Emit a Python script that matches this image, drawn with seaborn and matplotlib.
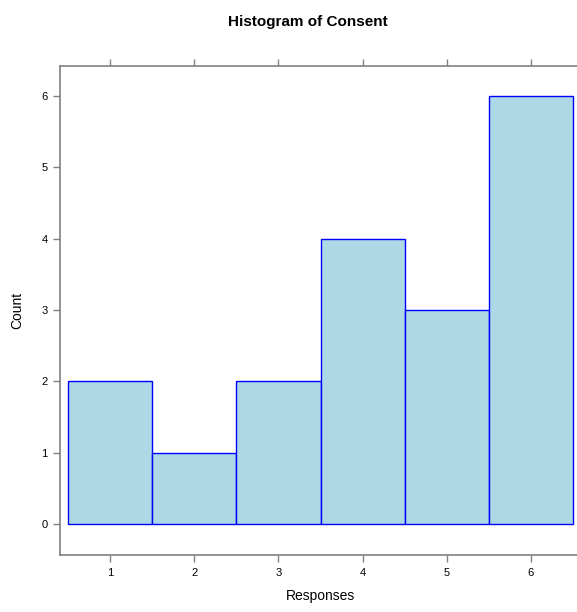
import matplotlib
matplotlib.use("Agg")
import matplotlib.pyplot as plt
import seaborn as sns
import pandas as pd

responses = [1, 1, 2, 3, 3, 4, 4, 4, 4, 5, 5, 5, 6, 6, 6, 6, 6, 6]
xticks = [1, 2, 3, 4, 5, 6]
yticks = [0, 1, 2, 3, 4, 5, 6]

df = pd.DataFrame({"Responses": responses})

sns.set_style("white")
plt.rcParams["font.family"] = ["Liberation Sans", "DejaVu Sans"]
plt.rcParams["text.color"] = "black"
plt.rcParams["axes.labelcolor"] = "black"

W, H = 577, 612
fig = plt.figure(figsize=(W / 100, H / 100), dpi=100)
left, right, top, bottom = 60, 581, 66, 555
ax = fig.add_axes([left / W, (H - bottom) / H, (right - left) / W, (bottom - top) / H])

sns.histplot(data=df, x="Responses", discrete=True, stat="count",
             color="#ADD8E6", edgecolor="#0000FF", linewidth=1.0, alpha=1.0, ax=ax)

ax.set_xlim(0.405, 6.595)
ax.set_ylim(-0.435, 6.42)
ax.set_xticks(xticks)
ax.set_yticks(yticks)
ax.tick_params(axis="both", which="both", direction="out", length=5, width=1,
               color="#808080", labelsize=8, labelcolor="black", pad=4)
ax.tick_params(axis="x", top=True, bottom=True, labeltop=False)
ax.tick_params(axis="y", left=True, right=False)
for s in ax.spines.values():
    s.set_color("#808080")
    s.set_linewidth(1.2)
ax.spines["right"].set_visible(False)

ax.set_xlabel("Responses", fontsize=10, labelpad=8, color="black")
ax.set_ylabel("Count", fontsize=10, labelpad=12, color="black")
fig.text(308 / W, 1 - 22 / H, "Histogram of Consent", ha="center", va="center",
         fontsize=11, fontweight="bold", color="black")

fig.savefig("out.png", dpi=100)
